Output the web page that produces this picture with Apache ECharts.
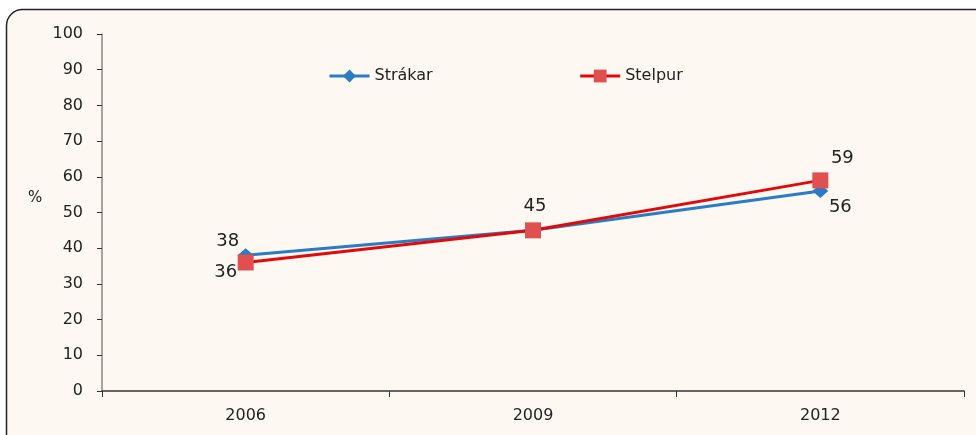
<!DOCTYPE html>
<html>
<head>
<meta charset="utf-8">
<script src="https://cdn.jsdelivr.net/npm/echarts@6/dist/echarts.min.js"></script>
<style>
  html, body { margin: 0; padding: 0; background: #ffffff; }
  #chart { width: 976px; height: 435px; }
</style>
</head>
<body>
<div id="chart"></div>
<script>
// gogn
var ar = ['2006', '2009', '2012'];
var strakar = [38, 45, 56];
var stelpur = [36, 45, 59];
var yTicks = { min: 0, max: 100, interval: 10 };

// stadsetning merkimida (miðja á punkti + hliðrun)
var strakarLabels = [
  { show: true, offset: [-18, -14] },
  { show: false },
  { show: true, offset: [20, 16] }
];
var stelpurLabels = [
  { show: true, offset: [-20, 10] },
  { show: true, offset: [2, -24] },
  { show: true, offset: [22, -22] }
];

function byggja(vals, labels) {
  return vals.map(function (v, i) {
    return { value: v, label: labels[i] };
  });
}

var font = 'DejaVu Sans, Verdana, sans-serif';

var myChart = echarts.init(document.getElementById('chart'));
var option = {
  backgroundColor: '#ffffff',
  animation: false,
  graphic: [{
    type: 'rect',
    z: -10,
    silent: true,
    shape: { x: 6.5, y: 9.5, width: 1000, height: 500, r: [16, 0, 0, 0] },
    style: { fill: '#fdf8f2', stroke: '#222', lineWidth: 1.5 }
  }, {
    type: 'text',
    left: 28,
    top: 191,
    silent: true,
    style: { text: '%', font: '15px ' + font, fill: '#222' }
  }],
  grid: { left: 102, right: 12, top: 34, bottom: 44 },
  legend: {
    left: 323,
    top: 63,
    itemWidth: 40,
    itemHeight: 16,
    itemGap: 146,
    lineStyle: { width: 3 },
    textStyle: { fontFamily: font, fontSize: 16, color: '#222' },
    data: ['Strákar', 'Stelpur']
  },
  xAxis: {
    type: 'category',
    data: ar,
    boundaryGap: true,
    axisLine: { lineStyle: { color: '#333', width: 1.5 } },
    axisTick: { show: true, length: 6, lineStyle: { color: '#333' } },
    axisLabel: { fontFamily: font, fontSize: 16, color: '#222', margin: 17 }
  },
  yAxis: {
    type: 'value',
    min: yTicks.min,
    max: yTicks.max,
    interval: yTicks.interval,
    axisLine: { show: true, lineStyle: { color: '#888', width: 1.5 } },
    axisTick: { show: true, length: 5, lineStyle: { color: '#333' } },
    splitLine: { show: false },
    axisLabel: { fontFamily: font, fontSize: 16, color: '#222', margin: 19 }
  },
  series: [
    {
      name: 'Stelpur',
      type: 'line',
      data: byggja(stelpur, stelpurLabels),
      symbol: 'rect',
      symbolSize: 16,
      lineStyle: { color: '#e00a0a', width: 3 },
      itemStyle: { color: '#e05050' },
      label: {
        position: 'inside',
        fontFamily: font,
        fontSize: 18,
        color: '#222'
      },
      z: 3
    },
    {
      name: 'Strákar',
      type: 'line',
      data: byggja(strakar, strakarLabels),
      symbol: 'diamond',
      symbolSize: [16, 14],
      lineStyle: { color: '#2a7cc4', width: 3 },
      itemStyle: { color: '#2a7cc4' },
      label: {
        position: 'inside',
        fontFamily: font,
        fontSize: 18,
        color: '#222'
      },
      z: 2
    }
  ]
};
myChart.setOption(option);
</script>
</body>
</html>
